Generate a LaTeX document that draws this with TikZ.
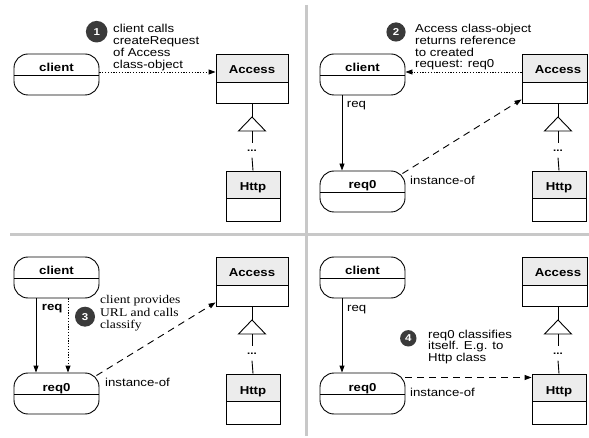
\documentclass[tikz,border=0pt]{standalone}
\usepackage{fontspec}
\setmainfont{Liberation Sans}[FakeStretch=1.15]
\newfontfamily\serifx{Liberation Serif}[FakeStretch=1.15]
\usetikzlibrary{arrows.meta,fit,calc}
\definecolor{hdr}{HTML}{ECECEC}
\definecolor{badgec}{HTML}{3A3A3A}
\definecolor{sepc}{HTML}{C8C8C8}
\newcommand{\fs}[1]{\fontsize{#1}{#1}\selectfont}
\tikzset{
  objbox/.style={draw, line width=0.9pt, rounded corners=14pt, inner sep=0pt},
  clsbox/.style={draw, line width=0.9pt, inner sep=0pt},
  namelbl/.style={font=\bfseries\fs{11.5}, anchor=base, inner sep=0pt},
  note/.style={font=\fontsize{11.5}{11.8}\selectfont, align=left, anchor=base west, inner sep=0pt},
  snote/.style={font=\serifx\fontsize{11.8}{12.5}\selectfont, align=left, anchor=base west, inner sep=0pt},
  badgetxt/.style={text=white, font=\bfseries\fs{10}, inner sep=0pt},
  arr/.style={line width=0.9pt, -{Triangle[length=7pt,width=5pt]}},
  dotarr/.style={arr, dash pattern=on 1.2pt off 1.6pt},
  dasharr/.style={arr, dash pattern=on 7pt off 5pt},
  divider/.style={line width=3pt, draw=sepc},
  thin/.style={line width=0.9pt},
  dotsnode/.style={inner sep=0pt, minimum height=14pt, minimum width=10pt, font=\bfseries\fs{10}},
}
\newcommand{\badgeat}[4]{% name, x, y, radius ; text
  \coordinate (#1c) at (#2,#3);
  \fill[badgec] (#1c) circle[radius=#4pt];
}
\newcommand{\panelparts}[2]{%
  \fill[hdr] (216,54) rectangle (#2,82);
  \node[clsbox, fit={(216,54) (#2,103)}] (acc#1) {};
  \draw[thin] (216,82) -- (#2,82);
  \node[namelbl] (accl#1) at (252,74) {Access};
  \fill[hdr] (226,171) rectangle (280,198);
  \node[clsbox, fit={(226,171) (280,221)}] (ht#1) {};
  \draw[thin] (226,198) -- (280,198);
  \node[namelbl] (htl#1) at (253,191) {Http};
  \coordinate (tt#1) at (252,117);
  \coordinate (tb#1) at (252,131);
  \node[dotsnode] (dt#1) at (252,150.5) {...};
  \draw[thin] (acc#1.south -| tt#1) -- (tt#1);
  \draw[thin] ($(tb#1)+(-13.5,0)$) -- (tt#1) -- ($(tb#1)+(13.5,0)$) -- cycle;
  \draw[thin] (tb#1) -- (dt#1.north);
  \draw[thin] (dt#1.south) -- (ht#1.north);
}
\newcommand{\objnode}[3]{%
  \node[objbox, fit={(14,#2) (99,#2+41)}] (#1) {};
  \draw[thin] (14,#2+21) -- (99,#2+21);
  \node[namelbl] (#1l) at (56.5,#2+18) {#3};
}
\begin{document}
\begin{tikzpicture}[x=1pt,y=-1pt]
\useasboundingbox (0,0) rectangle (589,438);
\draw[divider] (306,5) -- (306,436);
\draw[divider] (10,234.5) -- (589,234.5);
% Panel 1
\begin{scope}
  \panelparts{1}{288}
  \objnode{cl1}{54}{client}
  \badgeat{b1}{96.7}{31.7}{10.8}
  \node[badgetxt] (b1) at (b1c) {1};
  \node[note] (n1) at (113,68.4) {client calls\\createRequest\\of Access\\class-object};
  \draw[dotarr] ([yshift=2.5pt]cl1.east) -- ([yshift=2.5pt]cl1.east -| acc1.west);
\end{scope}
% Panel 2
\begin{scope}[shift={(306,0)}]
  \panelparts{2}{281}
  \objnode{cl2}{54}{client}
  \objnode{rq2}{171}{req0}
  \badgeat{b2}{90}{32}{9.6}
  \node[badgetxt] (b2) at (b2c) {2};
  \node[note] (n2) at (109,67.9) {Access class-object\\returns reference\\to created\\request: req0};
  \draw[dotarr] ([yshift=2.5pt]cl2.east -| acc2.west) -- ([yshift=2.5pt]cl2.east);
  \draw[arr] ([xshift=-20.5pt]cl2.south) -- ([xshift=-20.5pt]rq2.north);
  \node[note] (rl2) at (40.7,108) {req};
  \draw[dasharr] ([xshift=-3pt,yshift=-3pt]rq2.north east) -- ([yshift=4pt]acc2.south west);
  \node[note] (io2) at (104,185) {instance-of};
\end{scope}
% Panel 3
\begin{scope}[shift={(0,203)}]
  \panelparts{3}{288}
  \objnode{cl3}{54}{client}
  \objnode{rq3}{170}{req0}
  \badgeat{b3}{85}{113.7}{10}
  \node[badgetxt] (b3) at (b3c) {3};
  \node[snote] (n3) at (100,126) {client provides\\URL and calls\\classify};
  \draw[arr] ([xshift=-20.5pt]cl3.south) -- ([xshift=-20.5pt]rq3.north);
  \draw[dotarr] ([xshift=11.5pt]cl3.south) -- ([xshift=11.5pt]rq3.north);
  \node[note, font=\bfseries\fs{11.5}] (rl3) at (41.7,108) {req};
  \draw[dasharr] ([xshift=-3pt,yshift=-3pt]rq3.north east) -- ([yshift=4pt]acc3.south west);
  \node[note] (io3) at (105,183.7) {instance-of};
\end{scope}
% Panel 4
\begin{scope}[shift={(306,203)}]
  \panelparts{4}{281}
  \objnode{cl4}{54}{client}
  \objnode{rq4}{170}{req0}
  \badgeat{b4}{102.3}{135.3}{8.2}
  \node[badgetxt] (b4) at (b4c) {4};
  \node[note] (n4) at (122,158.6) {req0 classifies\\itself. E.g. to\\Http class};
  \draw[arr] ([xshift=-20.5pt]cl4.south) -- ([xshift=-20.5pt]rq4.north);
  \node[note] (rl4) at (41,109) {req};
  \draw[dasharr] ([yshift=16pt]rq4.east) -- ([yshift=16pt]rq4.east -| ht4.west);
  \node[note] (io4) at (104,193.7) {instance-of};
\end{scope}
\end{tikzpicture}
\end{document}
